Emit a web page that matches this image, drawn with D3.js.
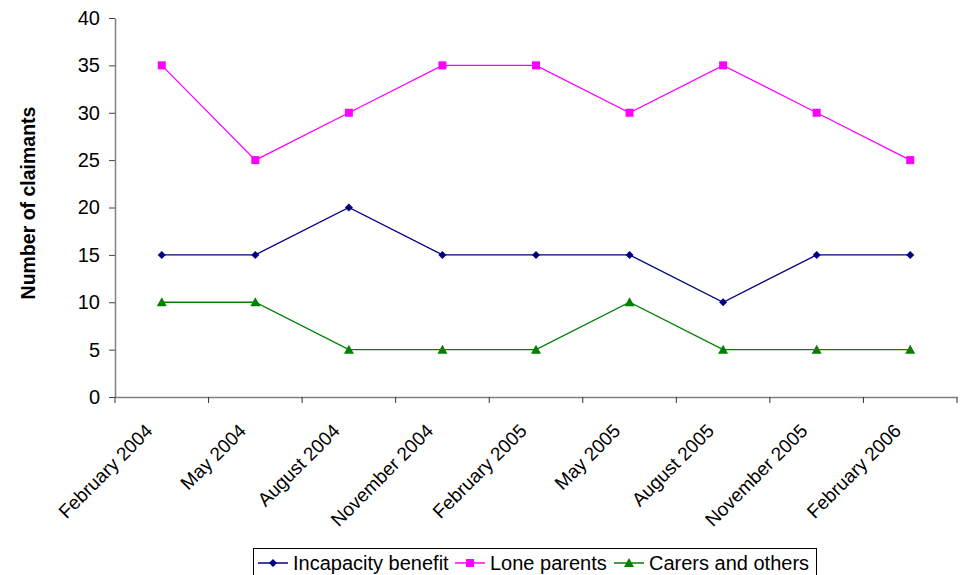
<!DOCTYPE html>
<html><head><meta charset="utf-8">
<script src="https://cdn.jsdelivr.net/npm/d3@7"></script>
<style>body{margin:0;background:#fff}svg{display:block;font-family:Arial,"Liberation Sans",sans-serif}</style>
</head><body><svg id="c" width="964" height="575"></svg>
<script>
const categories = ["February 2004","May 2004","August 2004","November 2004","February 2005","May 2005","August 2005","November 2005","February 2006"];
const incapacity = [15,15,20,15,15,15,10,15,15];
const loneParents = [35,25,30,35,35,30,35,30,25];
const carers = [10,10,5,5,5,10,5,5,5];
const yTicks = [0,5,10,15,20,25,30,35,40];
const seriesNames = ["Incapacity benefit","Lone parents","Carers and others"];

const series = [
  {name: seriesNames[0], values: incapacity, color: "#000080", shape: "diamond"},
  {name: seriesNames[1], values: loneParents, color: "#FF00FF", shape: "square"},
  {name: seriesNames[2], values: carers, color: "#008000", shape: "triangle"}
];

const FONT = "Arial, 'Liberation Sans', sans-serif";
const svg = d3.select("#c");
const L = 115, R = 957, T = 18, B = 397;
const x = d3.scaleBand().domain(categories).range([L, R]);
const y = d3.scaleLinear().domain([0, 40]).range([B, T]);

function marker(sel, shape, color, cx, cy) {
  if (shape === "diamond") {
    sel.append("path").attr("d", `M${cx},${cy-4}L${cx+4},${cy}L${cx},${cy+4}L${cx-4},${cy}Z`).attr("fill", color);
  } else if (shape === "square") {
    sel.append("rect").attr("x", cx-4).attr("y", cy-4).attr("width", 8).attr("height", 8).attr("fill", color);
  } else {
    sel.append("path").attr("d", `M${cx},${cy-5}L${cx+5},${cy+4}L${cx-5},${cy+4}Z`).attr("fill", color);
  }
}

// y axis
const ya = svg.append("g").attr("transform", `translate(${L},0)`)
  .call(d3.axisLeft(y).tickValues(yTicks).tickSize(6).tickSizeOuter(0).tickPadding(9));
ya.select(".domain").attr("stroke", "#808080").attr("stroke-width", 1.5);
ya.selectAll(".tick line").attr("stroke", "#444");
ya.selectAll(".tick text").attr("font-size", 20).attr("fill", "#000").attr("font-family", FONT);

// x axis
const xa = svg.append("g").attr("transform", `translate(0,${B})`)
  .call(d3.axisBottom(x).tickSize(0).tickSizeOuter(0).tickFormat(""));
xa.select(".domain").attr("stroke", "#808080").attr("stroke-width", 1.5);
xa.selectAll(".tick").remove();
const bounds = categories.map(c => x(c)).concat([R]);
svg.append("g").selectAll("line").data(bounds).join("line")
  .attr("x1", d => d).attr("x2", d => d).attr("y1", B).attr("y2", B + 6)
  .attr("stroke", "#333").attr("stroke-width", 1);
svg.append("g").selectAll("text").data(categories).join("text")
  .attr("transform", d => `translate(${x(d) + x.bandwidth()/2 - 8},${B + 35}) rotate(-45)`)
  .attr("text-anchor", "end").attr("font-size", 19).attr("fill", "#000").attr("font-family", FONT)
  .text(d => d);

// y title
svg.append("text").attr("transform", `translate(35,203) rotate(-90)`)
  .attr("text-anchor", "middle").attr("font-size", 19.5).attr("font-weight", "bold")
  .attr("font-family", FONT).text("Number of claimants");

// lines
const line = d3.line().x((d, i) => x(categories[i]) + x.bandwidth()/2).y(d => y(d));
series.forEach(s => {
  svg.append("path").datum(s.values).attr("d", line).attr("fill", "none")
    .attr("stroke", s.color).attr("stroke-width", 1.3);
  const g = svg.append("g");
  s.values.forEach((v, i) => marker(g, s.shape, s.color, x(categories[i]) + x.bandwidth()/2, y(v)));
});

// legend
const lg = svg.append("g");
lg.append("rect").attr("x", 253.5).attr("y", 548.5).attr("width", 563).attr("height", 40)
  .attr("fill", "#fff").attr("stroke", "#000").attr("stroke-width", 1);
const legX = [258, 455, 614];
series.forEach((s, i) => {
  const g = lg.append("g");
  g.append("line").attr("x1", legX[i]).attr("x2", legX[i] + 30).attr("y1", 563).attr("y2", 563)
    .attr("stroke", s.color).attr("stroke-width", 1.5);
  marker(g, s.shape, s.color, legX[i] + 15, 563);
  g.append("text").attr("x", legX[i] + 35).attr("y", 570).attr("font-size", 20).attr("fill", "#000")
    .attr("font-family", FONT).text(s.name);
});
</script></body></html>
